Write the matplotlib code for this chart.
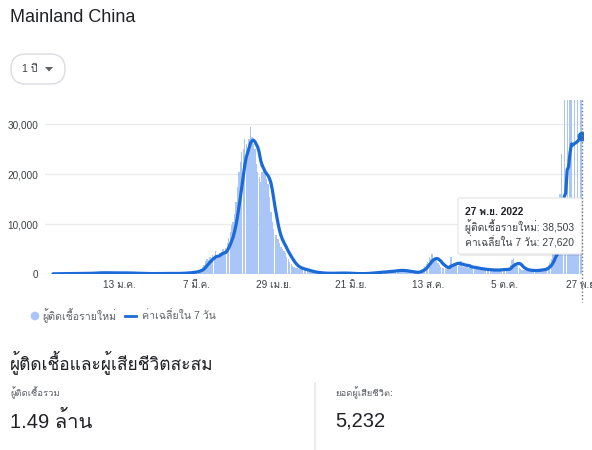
import numpy as np
import pandas as pd
import matplotlib
matplotlib.use('Agg')
import matplotlib.pyplot as plt
from matplotlib.patches import FancyBboxPatch, Circle
from matplotlib import font_manager as fm
from matplotlib.ft2font import FT2Font

# ---------------- data ----------------
start_date = '2021-11-28'
cases_nov2021 = [40, 35, 45]
cases_dec2021 = [60, 80, 90, 100, 110, 95, 120, 110, 100, 90, 85, 110, 100, 95, 120, 130,
                 110, 100, 95, 90, 110, 140, 160, 180, 200, 230, 240, 250, 260, 230, 220]
cases_jan = [250, 240, 260, 230, 220, 210, 200, 190, 220, 250, 230, 210, 240, 230, 200, 190,
             220, 230, 200, 180, 170, 160, 150, 140, 130, 120, 110, 100, 95, 90, 85]
cases_feb = [80, 70, 75, 80, 85, 90, 95, 100, 110, 120, 115, 110, 100, 105, 110, 100, 95, 90,
             100, 110, 120, 130, 140, 150, 170, 190, 210, 230]
cases_mar = [250, 300, 350, 400, 450, 500, 550, 650, 900, 1100, 1400, 1800, 2600, 3100, 2900,
             3500, 2800, 3900, 3200, 4700, 3600, 3400, 4300, 4500, 5000, 4100, 5300, 6200, 7200,
             8500, 9800]
cases_apr = [10500, 12000, 14500, 17500, 20500, 22500, 24500, 25000, 27000, 26000, 24500, 27000,
             29400, 27500, 26000, 25000, 22000, 20500, 19500, 18500, 20500, 22000, 20500, 19000,
             18000, 15500, 12500, 10500, 9000, 7800]
cases_may = [7800, 7000, 6200, 5500, 5000, 4600, 4200, 3500, 3000, 2500, 2000, 1700, 1500, 1300,
             1200, 1100, 1000, 950, 900, 800, 700, 600, 500, 450, 400, 350, 300, 260, 230, 200, 180]
cases_jun = [170, 160, 150, 140, 130, 130, 140, 150, 160, 170, 180, 200, 220, 210, 190, 180, 170,
             150, 130, 110, 100, 90, 80, 75, 70, 70, 75, 80, 90, 100]
cases_jul = [110, 130, 150, 200, 250, 280, 300, 320, 340, 360, 380, 400, 420, 450, 480, 500, 520,
             560, 600, 650, 700, 720, 750, 760, 740, 700, 650, 600, 550, 500, 450]
cases_aug = [400, 350, 300, 280, 300, 350, 500, 800, 1100, 1300, 1600, 2000, 2500, 3500, 3000,
             4000, 3200, 2800, 2600, 2300, 1800, 1500, 1300, 1200, 1100, 1000, 1200, 1800, 3500,
             1900, 2200]
cases_sep = [2000, 1800, 1700, 1900, 2600, 1600, 1500, 1400, 1600, 1300, 1500, 1200, 1300, 1200,
             1100, 1100, 1000, 1000, 950, 900, 900, 850, 850, 800, 800, 780, 760, 750, 800, 820]
cases_oct = [850, 900, 950, 1000, 900, 850, 900, 1000, 1800, 2800, 3200, 2200, 2000, 1600, 1200,
             1000, 900, 850, 800, 750, 700, 680, 650, 650, 700, 720, 750, 800, 850, 900, 950]
cases_nov = [900, 1100, 1400, 1900, 2400, 3000, 4000, 4500, 6000, 5000, 7000, 16000, 24000,
             14500, 36000, 10900, 37200, 11900, 35600, 36000, 13000, 38000, 12000, 39000, 14000,
             38837, 38503]

tick_dates = ['2022-01-13', '2022-03-07', '2022-04-29', '2022-06-21', '2022-08-13',
              '2022-10-05', '2022-11-27']
tick_labels = ['13 ม.ค.', '7 มี.ค.', '29 เม.ย.', '21 มิ.ย.', '13 ส.ค.', '5 ต.ค.', '27 พ.ย.']
y_ticks = [0, 10000, 20000, 30000]
y_tick_labels = ['0', '10,000', '20,000', '30,000']

total_cases_text = '1.49 ล้าน'
total_deaths_text = '5,232'

# ---------------- fonts ----------------
thai_fam = None
for f in fm.fontManager.ttflist:
    try:
        if 0x0E01 in FT2Font(f.fname).get_charmap():
            thai_fam = f.name
            break
    except Exception:
        pass
fams = ['Liberation Sans'] + ([thai_fam] if thai_fam else []) + ['DejaVu Sans']
plt.rcParams['font.family'] = fams

daily = (cases_nov2021 + cases_dec2021 + cases_jan + cases_feb + cases_mar + cases_apr +
         cases_may + cases_jun + cases_jul + cases_aug + cases_sep + cases_oct + cases_nov)
dates = pd.date_range(start_date, periods=len(daily), freq='D')
s = pd.Series(daily, index=dates, dtype=float)
avg7 = s.rolling(7, min_periods=1).mean()

W, H = 592, 450
fig = plt.figure(figsize=(W / 100, H / 100), dpi=100)
fig.patch.set_facecolor('white')

# main axes: x 45..583 px, y 100..274 px
ax_l, ax_r, ax_t, ax_b = 45, 583, 100, 274
ax = fig.add_axes([ax_l / W, 1 - ax_b / H, (ax_r - ax_l) / W, (ax_b - ax_t) / H])
ax.set_facecolor('none')

BAR = '#a9c6f7'
LINE = '#1b6ad6'
ax.bar(dates, s.values, width=0.9, color=BAR, linewidth=0, zorder=2)
ax.plot(dates, avg7.values, color=LINE, lw=2.3, zorder=4, solid_capstyle='round',
        solid_joinstyle='round')
ax.plot([dates[-1]], [avg7.values[-1]], 'o', color=LINE, ms=6, zorder=5)

ax.set_xlim(dates[0] - pd.Timedelta(days=5.5), dates[-1] + pd.Timedelta(days=0.9))
ax.set_ylim(0, 34800)
ax.set_yticks(y_ticks)
ax.set_yticklabels(y_tick_labels)
ax.set_xticks(pd.to_datetime(tick_dates))
ax.set_xticklabels(tick_labels)
ax.tick_params(axis='both', length=0, labelsize=7.2, colors='#3c4043')
ax.tick_params(axis='y', pad=5)
ax.tick_params(axis='x', pad=4)
for yv in y_ticks:
    ax.axhline(yv, color='#ebebeb' if yv else '#e0e0e0', lw=1, zorder=1)
for sp in ax.spines.values():
    sp.set_visible(False)

# overlay axes in pixel coordinates
oa = fig.add_axes([0, 0, 1, 1])
oa.set_xlim(0, W)
oa.set_ylim(H, 0)
oa.axis('off')
oa.patch.set_visible(False)

# title
oa.text(10, 18, 'Mainland China', fontsize=13, color='#202124', va='center', ha='left')

# range pill
oa.add_patch(FancyBboxPatch((11, 54), 54, 30, boxstyle='round,pad=0,rounding_size=15',
                            facecolor='white', edgecolor='#dadce0', lw=1))
oa.text(22, 69, '1 ปี', fontsize=7.5, color='#3c4043', va='center', ha='left')
oa.fill([45, 53, 49], [67, 67, 71.5], color='#5f6368', lw=0)

# hover dotted line
oa.plot([582, 582], [100, 302], color='#70757a', lw=1, ls=(0, (1, 1.5)))

# legend
oa.add_patch(Circle((35, 316), 3.6, color=BAR))
oa.text(42, 316, 'ผู้ติดเชื้อรายใหม่', fontsize=7.6, color='#5f6368', va='center', ha='left')
oa.plot([125, 136], [316, 316], color=LINE, lw=2)
oa.text(142, 316, 'ค่าเฉลี่ยใน 7 วัน', fontsize=7.6, color='#5f6368', va='center', ha='left')

# tooltip
oa.add_patch(FancyBboxPatch((459, 200), 124, 56, boxstyle='round,pad=0,rounding_size=2',
                            facecolor='#000000', alpha=0.08, edgecolor='none'))
oa.add_patch(FancyBboxPatch((458, 198), 124, 56, boxstyle='round,pad=0,rounding_size=2',
                            facecolor='white', edgecolor='#e4e4e4', lw=0.8))
last_date = dates[-1]
oa.text(465, 212, '27 พ.ย. ' + str(last_date.year), fontsize=7.4, fontweight='bold',
        color='#202124', va='center', ha='left')
oa.text(465, 227, 'ผู้ติดเชื้อรายใหม่: ' + f'{int(s.values[-1]):,}', fontsize=7.4,
        color='#3c4043', va='center', ha='left')
oa.text(465, 242, 'ค่าเฉลี่ยใน 7 วัน: ' + f'{int(round(avg7.values[-1])):,}', fontsize=7.4,
        color='#3c4043', va='center', ha='left')

# summary section
oa.text(10, 362, 'ผู้ติดเชื้อและผู้เสียชีวิตสะสม', fontsize=12.5, color='#202124',
        va='center', ha='left')
oa.text(10, 393, 'ผู้ติดเชื้อรวม', fontsize=6.8, color='#5f6368', va='center', ha='left')
oa.text(10, 421, total_cases_text, fontsize=14.5, color='#202124', va='center', ha='left')
oa.plot([315, 315], [383, 450], color='#e8e8e8', lw=1.2)
oa.text(335, 393, 'ยอดผู้เสียชีวิต:', fontsize=6.8, color='#5f6368', va='center', ha='left')
oa.text(335, 421, total_deaths_text, fontsize=14.5, color='#202124', va='center', ha='left')

fig.savefig('out.png', dpi=100, facecolor='white')
